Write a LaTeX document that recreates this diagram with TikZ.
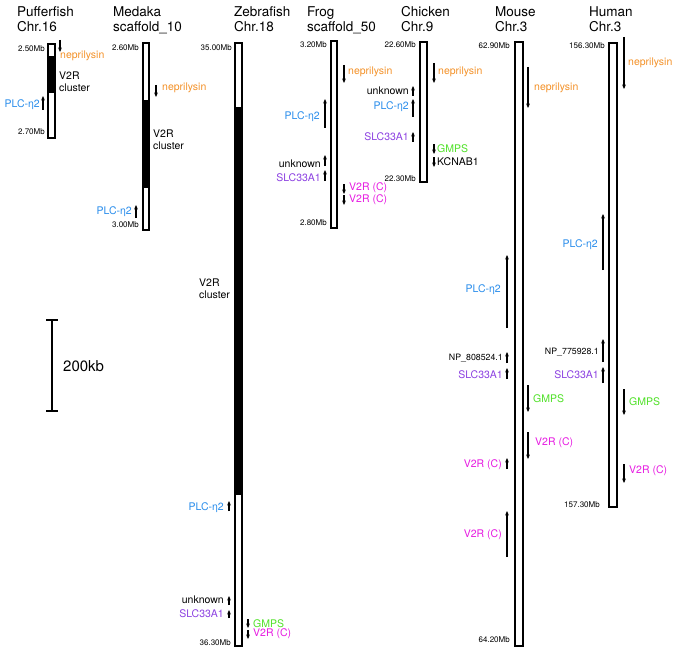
\documentclass[tikz,border=0pt]{standalone}
\usepackage{fontspec}
\setmainfont{TeX Gyre Heros}
\usetikzlibrary{arrows.meta}
\definecolor{cOrange}{RGB}{243,145,40}
\definecolor{cBlue}{RGB}{40,140,235}
\definecolor{cPurple}{RGB}{140,65,225}
\definecolor{cGreen}{RGB}{80,225,40}
\definecolor{cMag}{RGB}{230,25,225}
\begin{document}
\begin{tikzpicture}[x=1pt,y=-1pt,
  chrom/.style={draw, line width=1.2pt, fill=white},
  band/.style={fill=black},
  ttl/.style={font=\fontsize{13.5}{15}\selectfont, anchor=base west, inner sep=0pt},
  mb/.style={font=\fontsize{8}{9}\selectfont, anchor=east, inner sep=0pt},
  lbl/.style={font=\fontsize{10.5}{12}\selectfont, inner sep=0pt},
  lw/.style={lbl, anchor=west},
  le/.style={lbl, anchor=east},
  np/.style={font=\fontsize{8.8}{10}\selectfont, anchor=east, inner sep=0pt},
  gene/.style={line width=1.1pt, -{Stealth[length=4.5pt,width=3.8pt]}}]
\useasboundingbox (0,0) rectangle (685,650);

% titles
\node[ttl] (t1a) at (17,17) {Pufferfish};  \node[ttl] (t1b) at (17,32) {Chr.16};
\node[ttl] (t2a) at (113,17) {Medaka};     \node[ttl] (t2b) at (113,32) {scaffold\_10};
\node[ttl] (t3a) at (234,17) {Zebrafish};  \node[ttl] (t3b) at (234,32) {Chr.18};
\node[ttl] (t4a) at (307,17) {Frog};       \node[ttl] (t4b) at (307,32) {scaffold\_50};
\node[ttl] (t5a) at (401,17) {Chicken};    \node[ttl] (t5b) at (401,32) {Chr.9};
\node[ttl] (t6a) at (495,17) {Mouse};      \node[ttl] (t6b) at (495,32) {Chr.3};
\node[ttl] (t7a) at (589,17) {Human};      \node[ttl] (t7b) at (589,32) {Chr.3};

% ---------- Pufferfish
\draw[chrom] (48,44) rectangle (55,138);
\fill[band] (48,56) rectangle (55,93);
\draw[line width=1.2pt] (48,44) rectangle (55,138);
\node[mb] (p1) at (45,49) {2.50Mb};
\node[mb] (p2) at (45,132) {2.70Mb};
\draw[gene] (60,40) -- (60,52);
\node[lw, text=cOrange] (p3) at (60,56) {neprilysin};
\node[lw, align=left] (p4) at (59,82) {V2R\\cluster};
\draw[gene] (43,110) -- (43,96);
\node[le, text=cBlue] (p5) at (40,105) {PLC-η2};

% ---------- Medaka
\draw[chrom] (143,43) rectangle (149,230);
\fill[band] (143,100) rectangle (149,188);
\draw[line width=1.2pt] (143,43) rectangle (149,230);
\node[mb] (m1) at (139,48) {2.60Mb};
\node[mb] (m2) at (139,225) {3.00Mb};
\draw[gene] (156,85) -- (156,97);
\node[lw, text=cOrange] (m3) at (162,88) {neprilysin};
\node[lw, align=left] (m4) at (153,140) {V2R\\cluster};
\draw[gene] (136,218) -- (136,205);
\node[le, text=cBlue] (m5) at (132,212) {PLC-η2};

% ---------- Zebrafish
\draw[chrom] (235,43) rectangle (242,646);
\fill[band] (235,107) rectangle (242,495);
\draw[line width=1.2pt] (235,43) rectangle (242,646);
\node[mb] (z1) at (232,48) {35.00Mb};
\node[mb] (z2) at (231,643) {36.30Mb};
\node[lw, align=left] (z3) at (199,289) {V2R\\cluster};
\draw[gene] (229,511) -- (229,501);
\node[le, text=cBlue] (z4) at (224,508) {PLC-η2};
\draw[gene] (229,605) -- (229,596);
\node[le] (z5) at (224,600) {unknown};
\draw[gene] (229,618) -- (229,610);
\node[le, text=cPurple] (z6) at (224,614) {SLC33A1};
\draw[gene] (248,619) -- (248,628);
\node[lw, text=cGreen] (z7) at (253,624) {GMPS};
\draw[gene] (248,630) -- (248,639);
\node[lw, text=cMag] (z8) at (253,634) {V2R (C)};

% ---------- Frog
\draw[chrom] (331,41) rectangle (337,228);
\node[mb] (f1) at (327,45) {3.20Mb};
\node[mb] (f2) at (327,223) {2.80Mb};
\draw[gene] (344,65) -- (344,83);
\node[lw, text=cOrange] (f3) at (348,72) {neprilysin};
\draw[gene] (325,128) -- (325,99);
\node[le, text=cBlue] (f4) at (320,117) {PLC-η2};
\draw[gene] (325,166) -- (325,155);
\node[le] (f5) at (321,164) {unknown};
\draw[gene] (325,181) -- (325,170);
\node[le, text=cPurple] (f6) at (321,178) {SLC33A1};
\draw[gene] (344,184) -- (344,194);
\node[lw, text=cMag] (f7) at (349,188) {V2R (C)};
\draw[gene] (344,195) -- (344,205);
\node[lw, text=cMag] (f8) at (349,200) {V2R (C)};

% ---------- Chicken
\draw[chrom] (420,42) rectangle (427,182);
\node[mb] (c1) at (416,45) {22.60Mb};
\node[mb] (c2) at (416,179) {22.30Mb};
\draw[gene] (434,63) -- (434,83);
\node[lw, text=cOrange] (c3) at (438,72) {neprilysin};
\draw[gene] (413,96) -- (413,86);
\node[le] (c4) at (409,91) {unknown};
\draw[gene] (413,117) -- (413,99);
\node[le, text=cBlue] (c5) at (409,107) {PLC-η2};
\draw[gene] (413,142) -- (413,132);
\node[le, text=cPurple] (c6) at (409,137) {SLC33A1};
\draw[gene] (434,144) -- (434,154);
\node[lw, text=cGreen] (c7) at (437,149) {GMPS};
\draw[gene] (434,157) -- (434,167);
\node[lw] (c8) at (437,162) {KCNAB1};

% ---------- Mouse
\draw[chrom] (515,42) rectangle (523,646);
\node[mb] (u1) at (510,46) {62.90Mb};
\node[mb] (u2) at (510,640) {64.20Mb};
\draw[gene] (528,67) -- (528,108);
\node[lw, text=cOrange] (u3) at (534,88) {neprilysin};
\draw[gene] (507,328) -- (507,255);
\node[le, text=cBlue] (u4) at (501,290) {PLC-η2};
\draw[gene] (507,363) -- (507,352);
\node[np] (u5) at (503,358) {NP\_808524.1};
\draw[gene] (507,379) -- (507,368);
\node[le, text=cPurple] (u6) at (503,375) {SLC33A1};
\draw[gene] (528,385) -- (528,412);
\node[lw, text=cGreen] (u7) at (533,399) {GMPS};
\draw[gene] (528,432) -- (528,459);
\node[lw, text=cMag] (u8) at (535,443) {V2R (C)};
\draw[gene] (507,469) -- (507,458);
\node[le, text=cMag] (u9) at (502,465) {V2R (C)};
\draw[gene] (507,557) -- (507,511);
\node[le, text=cMag] (u10) at (502,535) {V2R (C)};

% ---------- Human
\draw[chrom] (609,43) rectangle (617,507);
\node[mb] (h1) at (605,46) {156.30Mb};
\node[mb] (h2) at (600,505) {157.30Mb};
\draw[gene] (624,37) -- (624,89);
\node[lw, text=cOrange] (h3) at (628,63) {neprilysin};
\draw[gene] (603,270) -- (603,214);
\node[le, text=cBlue] (h4) at (598,245) {PLC-η2};
\draw[gene] (603,362) -- (603,339);
\node[np] (h5) at (599,352) {NP\_775928.1};
\draw[gene] (603,383) -- (603,367);
\node[le, text=cPurple] (h6) at (599,375) {SLC33A1};
\draw[gene] (624,389) -- (624,415);
\node[lw, text=cGreen] (h7) at (629,402) {GMPS};
\draw[gene] (624,464) -- (624,483);
\node[lw, text=cMag] (h8) at (629,471) {V2R (C)};

% ---------- scale bar
\coordinate (sTop) at (52,320);
\coordinate (sBot) at (52,411);
\draw[line width=1.8pt] (sTop) -- (sBot);
\draw[line width=1.8pt] ([xshift=-6pt]sTop) -- ([xshift=6pt]sTop);
\draw[line width=1.8pt] ([xshift=-6pt]sBot) -- ([xshift=6pt]sBot);
\node[font=\fontsize{15}{17}\selectfont, anchor=west, inner sep=0pt] (sLbl) at (63,366) {200kb};
\end{tikzpicture}
\end{document}
